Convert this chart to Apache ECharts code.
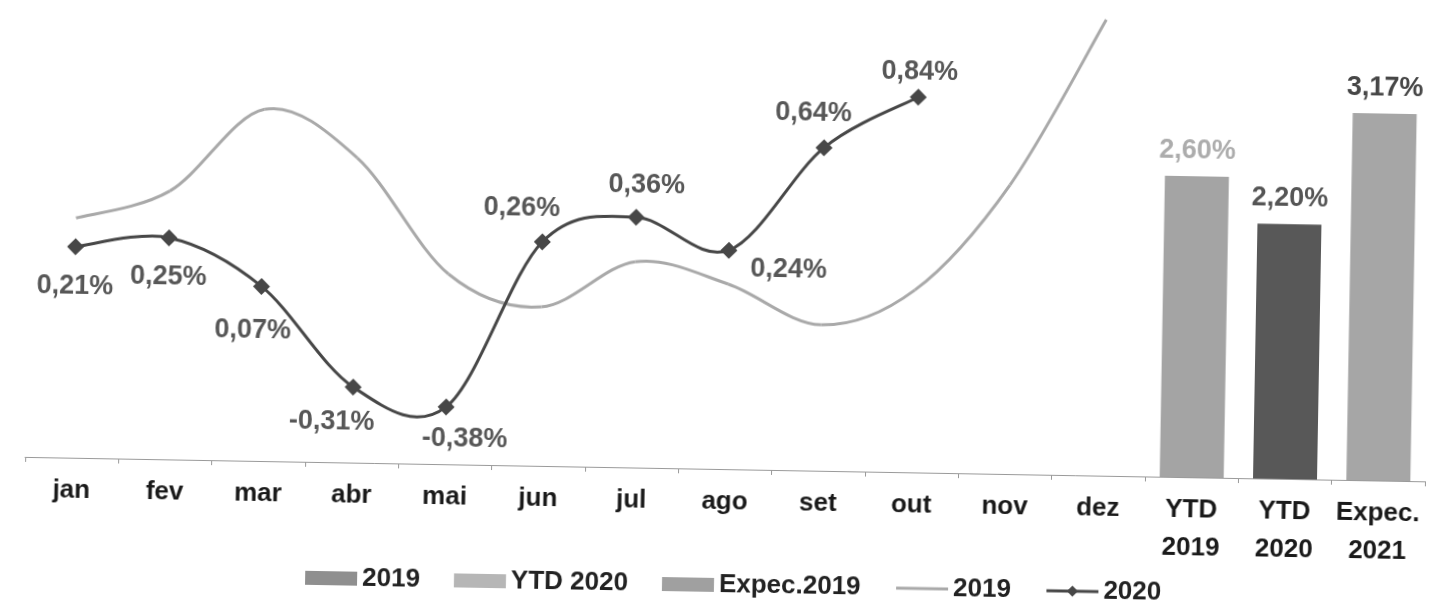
<!DOCTYPE html>
<html>
<head>
<meta charset="utf-8">
<title>IPCA</title>
<script src="https://cdn.jsdelivr.net/npm/echarts@6/dist/echarts.min.js"></script>
<style>
  html, body {
    margin: 0;
    padding: 0;
    background: #ffffff;
    overflow: hidden;
  }
  /* a scan ligeiramente torta: gira o gráfico 1 grau */
  #chart {
    width: 1441px;
    height: 605px;
    transform: rotate(1deg);
  }
</style>
</head>
<body>
<div id="chart"></div>
<script>
// categorias do eixo x
var categories = ['jan', 'fev', 'mar', 'abr', 'mai', 'jun', 'jul', 'ago', 'set', 'out', 'nov', 'dez',
  'YTD\n2019', 'YTD\n2020', 'Expec.\n2021']

// variação mensal (%)
var line2019 = [0.32, 0.43, 0.75, 0.57, 0.13, 0.01, 0.19, 0.11, -0.04, 0.10, 0.51, 1.15]
var line2020 = [0.21, 0.25, 0.07, -0.31, -0.38, 0.26, 0.36, 0.24, 0.64, 0.84]

// barras acumuladas (%)
var ytd2019 = 2.60
var ytd2020 = 2.20
var expec2021 = 3.17

// deslocamento dos rótulos da linha 2020 (px, relativo ao ponto)
var labelOffsets = [[0, 40], [0, 39], [-8, 44], [-21, 35], [19, 32], [-21, -33], [10, -32], [60, 18], [-11, -34], [1, -25]]

function pct (v) {
  return v.toFixed(2).replace('.', ',') + '%'
}

function barData (idx, v) {
  return categories.map(function (c, i) { return i === idx ? v : null })
}

// curva suavizada estilo Excel (bezier com tangentes catmull-rom)
function smoothRender (arr, color) {
  return function (params, api) {
    var i = params.dataIndex
    if (i >= arr.length - 1) return null
    var p = function (k) { return api.coord([k, arr[k]]) }
    var p0 = p(Math.max(i - 1, 0))
    var p1 = p(i)
    var p2 = p(i + 1)
    var p3 = p(Math.min(i + 2, arr.length - 1))
    return {
      type: 'bezierCurve',
      shape: {
        x1: p1[0], y1: p1[1],
        x2: p2[0], y2: p2[1],
        cpx1: p1[0] + (p2[0] - p0[0]) / 6,
        cpy1: p1[1] + (p2[1] - p0[1]) / 6,
        cpx2: p2[0] - (p3[0] - p1[0]) / 6,
        cpy2: p2[1] - (p3[1] - p1[1]) / 6
      },
      style: { stroke: color, lineWidth: 3, fill: null }
    }
  }
}

var font = 'Liberation Sans, Arial, sans-serif'

var chart = echarts.init(document.getElementById('chart'))

var barLabel = {
  show: true,
  position: 'top',
  distance: 12,
  fontFamily: font,
  fontSize: 27,
  fontWeight: 'bold'
}

var option = {
  animation: false,
  grid: {
    left: 28,
    right: 13,
    top: -6,
    bottom: 136
  },
  legend: {
    bottom: 2,
    left: 305,
    itemWidth: 52,
    itemHeight: 14,
    itemGap: 34,
    formatter: function (name) { return name.trim() },
    textStyle: {
      fontFamily: font,
      fontSize: 26,
      fontWeight: 'bold',
      color: '#222222'
    },
    data: [
      { name: '2019', icon: 'rect', itemStyle: { color: '#8f8f8f' } },
      { name: 'YTD 2020', icon: 'rect', itemStyle: { color: '#b6b6b6' } },
      { name: 'Expec.2019', icon: 'rect', itemStyle: { color: '#a0a0a0' } },
      { name: '2019 ', itemStyle: { opacity: 0 }, lineStyle: { opacity: 1, color: '#a9a9a9', width: 3 } },
      { name: '2020', lineStyle: { opacity: 1, color: '#474747', width: 3 } }
    ]
  },
  xAxis: {
    type: 'category',
    data: categories,
    axisLine: { onZero: false, lineStyle: { color: '#9a9a9a', width: 1 } },
    axisTick: { show: true, length: 5, lineStyle: { color: '#9a9a9a' } },
    axisLabel: {
      interval: 0,
      margin: 14,
      fontFamily: font,
      fontSize: 26,
      fontWeight: 'bold',
      lineHeight: 38,
      color: '#1a1a1a'
    }
  },
  yAxis: [
    { type: 'value', min: -0.6, max: 1.2, show: false },
    { type: 'value', min: 0, max: 4.05, show: false }
  ],
  series: [
    {
      name: '2019',
      type: 'bar',
      yAxisIndex: 1,
      stack: 'acum',
      barWidth: 64,
      data: barData(12, ytd2019),
      itemStyle: { color: '#a4a4a4' },
      label: Object.assign({ color: '#acacac', formatter: function (p) { return pct(p.value) } }, barLabel)
    },
    {
      name: 'YTD 2020',
      type: 'bar',
      yAxisIndex: 1,
      stack: 'acum',
      barWidth: 64,
      data: barData(13, ytd2020),
      itemStyle: { color: '#585858' },
      label: Object.assign({ color: '#555555', formatter: function (p) { return pct(p.value) } }, barLabel)
    },
    {
      name: 'Expec.2019',
      type: 'bar',
      yAxisIndex: 1,
      stack: 'acum',
      barWidth: 64,
      data: barData(14, expec2021),
      itemStyle: { color: '#a6a6a6' },
      label: Object.assign({ color: '#464646', formatter: function (p) { return pct(p.value) } }, barLabel)
    },
    {
      // curvas desenhadas pela série custom
      name: 'curva2019',
      type: 'custom',
      z: 2,
      data: line2019.map(function (v, i) { return [i, v] }),
      encode: { x: 0, y: 1 },
      renderItem: smoothRender(line2019, '#a9a9a9')
    },
    {
      name: 'curva2020',
      type: 'custom',
      z: 3,
      data: line2020.map(function (v, i) { return [i, v] }),
      encode: { x: 0, y: 1 },
      renderItem: smoothRender(line2020, '#474747')
    },
    {
      name: '2019 ',
      type: 'line',
      symbol: 'none',
      data: line2019,
      lineStyle: { color: '#a9a9a9', width: 3, opacity: 0 },
      itemStyle: { color: '#a9a9a9' }
    },
    {
      name: '2020',
      type: 'line',
      z: 4,
      symbol: 'diamond',
      symbolSize: 17,
      data: line2020.map(function (v, i) {
        return {
          value: v,
          label: { offset: labelOffsets[i] }
        }
      }),
      lineStyle: { color: '#474747', width: 3, opacity: 0 },
      itemStyle: { color: '#474747' },
      label: {
        show: true,
        position: 'inside',
        fontFamily: font,
        fontSize: 27,
        fontWeight: 'bold',
        color: '#575757',
        textBorderWidth: 0,
        formatter: function (p) { return pct(p.value) }
      }
    }
  ]
}

chart.setOption(option)
</script>
</body>
</html>
